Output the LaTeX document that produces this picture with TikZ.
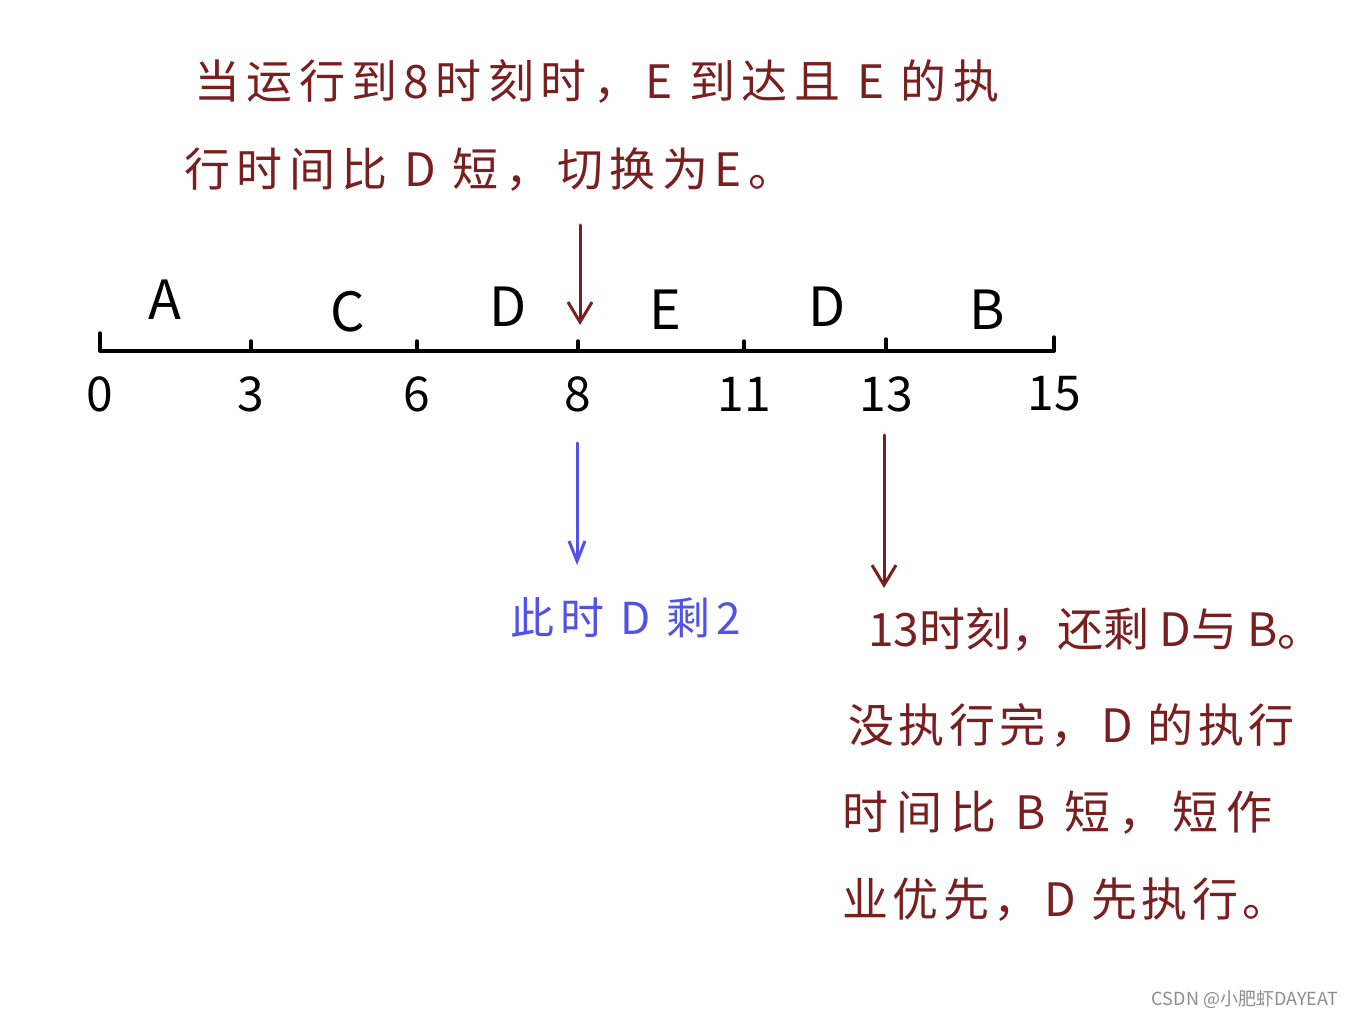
\documentclass[tikz,border=0pt]{standalone}
\usepackage{fontspec}
\setmainfont{Noto Sans CJK SC}
\newfontfamily\spacedtop[LetterSpace=14]{Noto Sans CJK SC}
\newfontfamily\spacedmid[LetterSpace=10]{Noto Sans CJK SC}
\newfontfamily\spacedwide[LetterSpace=18]{Noto Sans CJK SC}
\usetikzlibrary{arrows.meta}
\definecolor{dred}{HTML}{7A1F1F}
\definecolor{dblue}{HTML}{5252E6}
\tikzset{
  axisline/.style={line width=3.4pt, line cap=round, black},
  tickmark/.style={line width=3.4pt, line cap=round, black},
  num/.style={font=\fontsize{48}{48}\selectfont, inner sep=0pt},
  proc/.style={font=\fontsize{54}{54}\selectfont, inner sep=0pt},
  redtxt/.style={font=\spacedtop\fontsize{46}{46}\selectfont, text=dred, inner sep=0pt, anchor=west},
  redtxtb/.style={font=\fontsize{46}{46}\selectfont, text=dred, inner sep=0pt, anchor=west},
  bluetxt/.style={font=\spacedtop\fontsize{44}{44}\selectfont, text=dblue, inner sep=0pt, anchor=west},
  redarrow/.style={dred, line width=3pt, line cap=round, -{Straight Barb[length=20pt,width=24pt,line width=3pt]}},
  bluearrow/.style={dblue, line width=3pt, line cap=round, -{Straight Barb[length=20pt,width=16pt,line width=3pt]}},
  wmark/.style={font=\fontsize{18}{18}\selectfont, text=black!45, inner sep=0pt, anchor=east}
}
\begin{document}
\begin{tikzpicture}[x=1pt,y=-1pt]
\useasboundingbox[fill=white] (0,0) rectangle (1353,1019);
% axis
\coordinate (a0) at (100,351);
\coordinate (a15) at (1054,351);
\draw[axisline] (a0) -- (a15);
\foreach \x/\n/\t in {100/0/18, 251/3/10, 417/6/10, 578/8/10, 744/11/10, 886/13/12, 1054/15/14}{
  \coordinate (t\n) at (\x,351);
  \draw[tickmark] (t\n) -- ++(0,-\t);
  \node[num] (n\n) at (\x,394) {\n};
}
% process labels
\node[proc] (pA) at (165,300) {A};
\node[proc] (pC) at (348,312) {C};
\node[proc] (pD1) at (508,307) {D};
\node[proc] (pE) at (665,310) {E};
\node[proc] (pD2) at (827,307) {D};
\node[proc] (pB) at (987,310) {B};
% top text
\node[redtxt] (top1) at (194,82) {当运行到8时刻时，E 到达且 E 的执};
\node[redtxt] (top2) at (184,170) {行时间比 D 短，切换为E。};
% arrows
\coordinate (r1s) at (580,225);
\coordinate (r1e) at (580,325);
\draw[redarrow] (r1s) -- (r1e);
\coordinate (bs) at (577,443);
\coordinate (be) at (577,565);
\draw[bluearrow] (bs) -- (be);
\coordinate (r2s) at (884,435);
\coordinate (r2e) at (884,588);
\draw[redarrow] (r2s) -- (r2e);
% blue text
\node[bluetxt] (blue) at (510,618) {此时 D 剩2};
% right text
\node[redtxtb] (r1) at (868,630) {13时刻，还剩 D与 B。};
\node[redtxt, font=\spacedmid\fontsize{46}{46}\selectfont] (r2) at (848,725) {没执行完，D 的执行};
\node[redtxt, font=\spacedwide\fontsize{46}{46}\selectfont] (r3) at (842,813) {时间比 B 短，短作};
\node[redtxt, font=\spacedmid\fontsize{46}{46}\selectfont] (r4) at (842,900) {业优先，D 先执行。};
% watermark
\node[wmark] (wm) at (1338,1000) {CSDN @小肥虾DAYEAT};
\end{tikzpicture}
\end{document}
